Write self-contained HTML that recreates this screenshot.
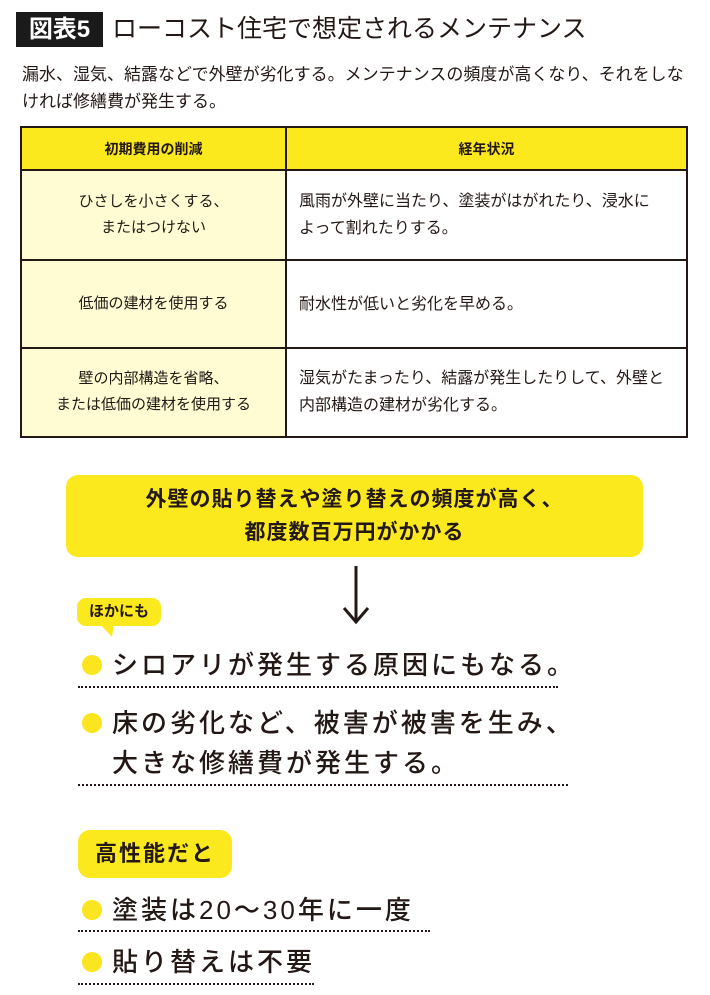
<!DOCTYPE html>
<html><head><meta charset="utf-8"><style>
*{margin:0;padding:0;box-sizing:border-box}
body{width:710px;height:995px;background:#fff;position:relative;overflow:hidden;font-family:"Liberation Sans","Noto Sans CJK JP",sans-serif;color:#231815}
.a{position:absolute;white-space:nowrap}
.tb{position:absolute;left:20px;top:126px;width:668px;height:312px;border:2px solid #231815}
.cell{position:absolute;display:flex;align-items:center;font-size:14.5px;line-height:26px}
.r{font-size:16px;line-height:27px}
.l{justify-content:center;text-align:center;background:#fffbd2;font-size:15px}
.h{background:#fbe91e;font-weight:bold;font-size:14px;justify-content:center}
.dot{position:absolute;width:20px;height:20px;border-radius:50%;background:#fbe51e}
.big{position:absolute;font-size:26px;font-weight:500;letter-spacing:3px;white-space:nowrap;line-height:40px}
.dl{position:absolute;border-top:2px dotted #231815;height:0}
.hl{position:absolute;left:0;width:664px;height:2px;background:#231815}
</style></head><body>
<div class="a" style="left:16px;top:12px;width:87px;height:35px;background:#1a1a1a;color:#fff;font-size:24px;font-weight:bold;line-height:35px;text-align:center">図表5</div>
<div class="a" style="left:112px;top:10px;font-size:25px;line-height:38px">ローコスト住宅で想定されるメンテナンス</div>
<div class="a" style="left:22px;top:61px;font-size:17px;line-height:27px;white-space:normal;width:685px">漏水、湿気、結露などで外壁が劣化する。メンテナンスの頻度が高くなり、それをしな<br>ければ修繕費が発生する。</div>
<div class="tb">
<div class="cell h" style="left:0;top:0;width:664px;height:42px"></div>
<div class="cell h" style="left:0;top:0;width:263px;height:42px">初期費用の削減</div>
<div class="cell h" style="left:265px;top:0;width:399px;height:42px">経年状況</div>
<div class="cell l" style="left:0;top:42px;width:263px;height:90px">ひさしを小さくする、<br>またはつけない</div>
<div class="cell r" style="left:277px;top:42px;width:385px;height:90px">風雨が外壁に当たり、塗装がはがれたり、浸水に<br>よって割れたりする。</div>
<div class="cell l" style="left:0;top:132px;width:263px;height:88px">低価の建材を使用する</div>
<div class="cell r" style="left:277px;top:132px;width:385px;height:88px">耐水性が低いと劣化を早める。</div>
<div class="cell l" style="left:0;top:220px;width:263px;height:88px">壁の内部構造を省略、<br>または低価の建材を使用する</div>
<div class="cell r" style="left:277px;top:220px;width:385px;height:88px">湿気がたまったり、結露が発生したりして、外壁と<br>内部構造の建材が劣化する。</div>
<div class="hl" style="top:41px"></div>
<div class="hl" style="top:131px"></div>
<div class="hl" style="top:219px"></div>
<div style="position:absolute;left:263px;top:0;width:2px;height:308px;background:#231815"></div>
</div>
<div class="a" style="left:66px;top:475px;width:577px;height:82px;background:#fbe91e;border-radius:12px;text-align:center;font-size:21px;font-weight:bold;line-height:33px;padding-top:8px;letter-spacing:1px">外壁の貼り替えや塗り替えの頻度が高く、<br>都度数百万円がかかる</div>
<svg class="a" style="left:340px;top:564px" width="32" height="64"><line x1="16" y1="2" x2="16" y2="58" stroke="#231815" stroke-width="3"/><polyline points="4,44 16,58 28,44" fill="none" stroke="#231815" stroke-width="3"/></svg>
<div class="a" style="left:77px;top:598px;width:84px;height:28px;background:#fbe91e;border-radius:9px;font-size:15px;font-weight:bold;line-height:28px;text-align:center">ほかにも</div>
<svg class="a" style="left:100px;top:624px" width="20" height="14"><polygon points="0,0 14,0 12,13" fill="#fbe91e"/></svg>
<div class="dot" style="left:82px;top:655px"></div>
<div class="big" style="left:112px;top:645px">シロアリが発生する原因にもなる。</div>
<div class="dl" style="left:78px;top:686px;width:480px"></div>
<div class="dot" style="left:82px;top:713px"></div>
<div class="big" style="left:112px;top:703px;line-height:40px">床の劣化など、被害が被害を生み、<br>大きな修繕費が発生する。</div>
<div class="dl" style="left:78px;top:784px;width:490px"></div>
<div class="a" style="left:78px;top:830px;width:154px;height:48px;background:#fbe91e;border-radius:12px;font-size:22px;font-weight:bold;line-height:48px;text-align:center;letter-spacing:2px">高性能だと</div>
<div class="dot" style="left:82px;top:900px"></div>
<div class="big" style="left:112px;top:890px">塗装は20～30年に一度</div>
<div class="dl" style="left:78px;top:930px;width:352px"></div>
<div class="dot" style="left:82px;top:952px"></div>
<div class="big" style="left:112px;top:942px">貼り替えは不要</div>
<div class="dl" style="left:78px;top:983px;width:236px"></div>
</body></html>
